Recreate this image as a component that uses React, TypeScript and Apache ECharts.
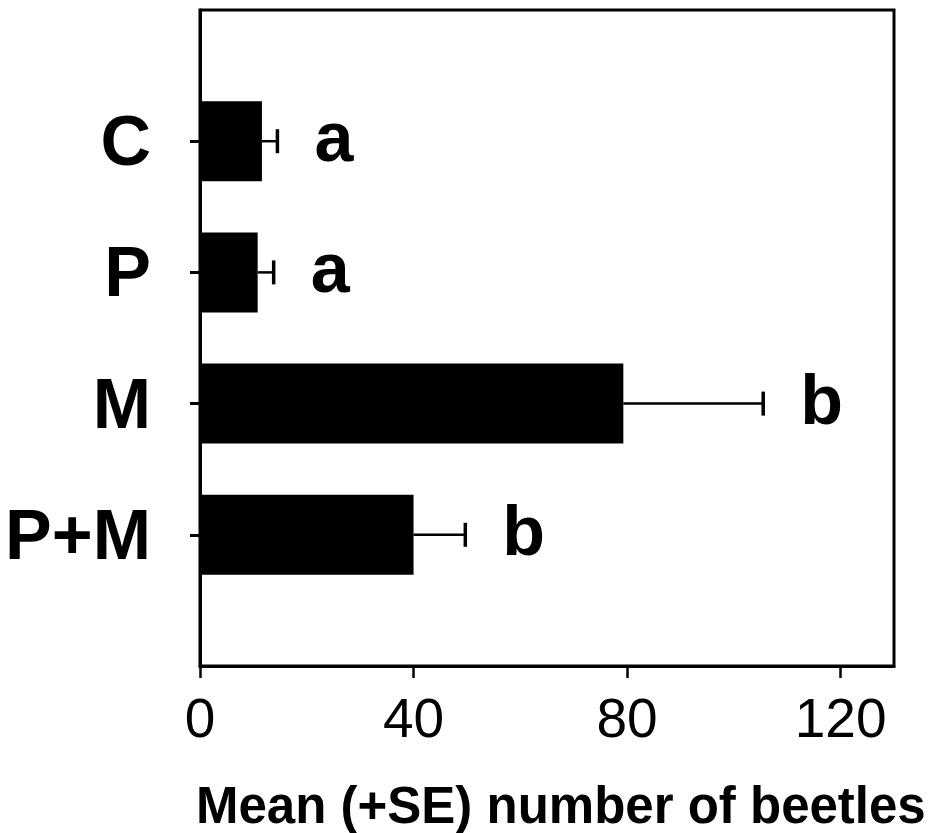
import React, { useEffect, useRef } from "react";
import * as echarts from "echarts";

const categories = ["C", "P", "M", "P+M"];
const means = [11.6, 10.8, 79.3, 40];
const upperSE = [14.5, 13.8, 105.5, 49.7];
const letters = ["a", "a", "b", "b"];
const xTicks = [0, 40, 80, 120];

export default function App() {
  const ref = useRef<HTMLDivElement>(null);
  useEffect(() => {
    if (!ref.current) return;
    const chart = echarts.init(ref.current, null, { renderer: "svg" });
    const yData = ["", ...categories, ""];
    const barData: any[] = ["-", ...means, "-"];
    const errData = categories.map((c, i) => [means[i], upperSE[i], i + 1, letters[i]]);
    chart.setOption({
      animation: false,
      backgroundColor: "#fff",
      grid: {
        left: 200,
        right: 48,
        top: 10,
        bottom: 167,
        show: true,
        borderColor: "#000",
        borderWidth: 3,
        containLabel: false,
      },
      xAxis: {
        type: "value",
        min: 0,
        max: 130,
        interval: 40,
        splitLine: { show: false },
        axisLine: { show: true, lineStyle: { color: "#000", width: 3 } },
        axisTick: {
          show: true,
          length: 12,
          customValues: xTicks,
          lineStyle: { color: "#000", width: 2.5 },
        },
        axisLabel: {
          customValues: xTicks,
          margin: 24,
          color: "#000",
          fontSize: 55,
          fontFamily: "'Liberation Sans Narrow', 'Arial Narrow', 'Liberation Sans', Arial, sans-serif",
        },
      },
      yAxis: {
        type: "category",
        data: yData,
        inverse: true,
        boundaryGap: false,
        axisLine: { show: true, lineStyle: { color: "#000", width: 3 } },
        axisTick: {
          show: true,
          length: 10,
          interval: (idx: number) => idx > 0 && idx < yData.length - 1,
          lineStyle: { color: "#000", width: 3 },
        },
        splitLine: { show: false },
        axisLabel: {
          interval: 0,
          margin: 49,
          color: "#000",
          fontSize: 70,
          fontWeight: "bold",
          fontFamily: "'Liberation Sans', Arial, sans-serif",
          padding: [0, 0, 18, 0],
        },
      },
      series: [
        {
          type: "bar",
          data: barData,
          barWidth: 80,
          itemStyle: { color: "#000" },
          silent: true,
        },
        {
          type: "custom",
          data: errData,
          encode: { x: [0, 1], y: 2 },
          silent: true,
          renderItem: (params: any, api: any) => {
            const y = api.value(2);
            const p0 = api.coord([api.value(0), y]);
            const p1 = api.coord([api.value(1), y]);
            const letter = letters[params.dataIndex];
            return {
              type: "group",
              children: [
                {
                  type: "line",
                  shape: { x1: p0[0], y1: p0[1], x2: p1[0], y2: p1[1] },
                  style: { stroke: "#000", lineWidth: 2.5 },
                },
                {
                  type: "line",
                  shape: { x1: p1[0], y1: p1[1] - 12, x2: p1[0], y2: p1[1] + 12 },
                  style: { stroke: "#000", lineWidth: 3.5 },
                },
                {
                  type: "text",
                  x: p1[0] + 37,
                  y: p1[1] - 4,
                  style: {
                    text: letter,
                    fill: "#000",
                    fontSize: 70,
                    fontWeight: "bold",
                    fontFamily: "'Liberation Sans', Arial, sans-serif",
                    align: "left",
                    verticalAlign: "middle",
                  },
                },
              ],
            };
          },
        },
      ],
      graphic: [
        {
          type: "text",
          left: 196,
          top: 780,
          style: {
            text: "Mean (+SE) number of beetles",
            fill: "#000",
            fontSize: 51,
            fontWeight: "bold",
            fontFamily: "'Liberation Sans', Arial, sans-serif",
          },
        },
      ],
    });
    return () => chart.dispose();
  }, []);
  return <div ref={ref} style={{ width: 942, height: 833, position: "absolute", left: 0, top: 0 }} />;
}
